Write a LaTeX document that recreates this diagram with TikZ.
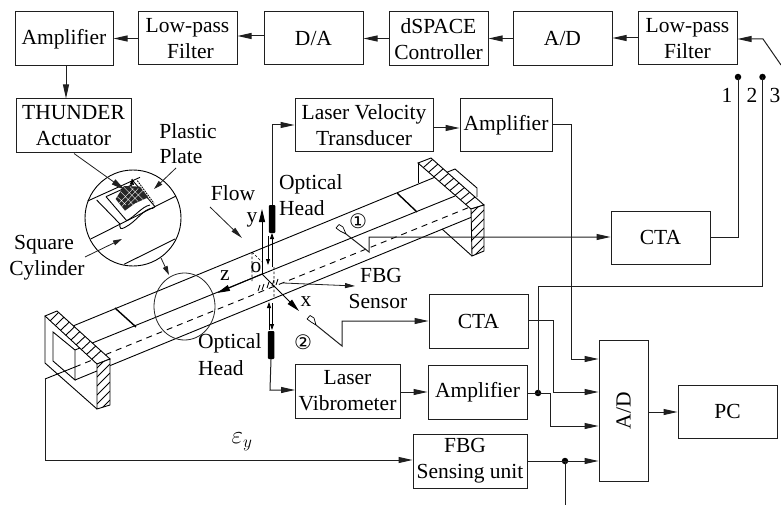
\documentclass[tikz,border=0pt]{standalone}
\usepackage{fontspec}
\setmainfont{Liberation Serif}
\newfontfamily\circfont{DejaVu Sans}
\usetikzlibrary{arrows.meta,calc,patterns}
\tikzset{
  ln/.style={line width=1pt,draw=black!88},
  arr/.style={ln,-{Triangle[length=14pt,width=6pt]}},
  smallarr/.style={line width=0.8pt,draw=black,-{Triangle[length=6pt,width=4pt]}},
  box/.style={draw=black!88,line width=1pt,inner sep=0pt,align=center,font=\fontsize{21.5}{26}\selectfont},
  lab/.style={inner sep=0pt,font=\fontsize{21.5}{26}\selectfont},
  dotn/.style={circle,fill=black,inner sep=0pt,minimum size=6.5pt},
  thin line/.style={line width=0.9pt,draw=black},
  thick mark/.style={line width=1.4pt,draw=black},
  head/.style={draw=none,fill=black,rounded corners=1pt,inner sep=0pt,minimum width=6.5pt,minimum height=28pt},
}
\newcommand{\bx}[6]{\pgfmathsetmacro\bxw{#4-#2}\pgfmathsetmacro\bxh{#5-#3}%
  \node[box,minimum width=\bxw pt,minimum height=\bxh pt] (#1) at ({(#2+#4)/2},{(#3+#5)/2}) {#6};}
\newcommand{\topstripes}[4]{\foreach \t in {0.1,0.2,...,0.95}{\pgfmathsetmacro\tt{\t-0.07}
  \draw[thin line] ($(#1)!\t!(#4)$) -- ($(#2)!\tt!(#3)$);}}
\begin{document}
\begin{tikzpicture}[x=1pt,y=-1pt]
\useasboundingbox (0,0) rectangle (781,505);
% ---------- channel
\draw[thin line] (53,332)--(75,350)--(75,380)--(53,361)--cycle;
\draw[thin line] (45,316)--(45,363)--(97,409);
\draw[thin line] (73,326)--(433,178) (433,178)--(455,169)--(477,188)--(477,197);
\draw[thin line] (75,350)--(455,196);
\draw[thin line] (75,380)--(472,217);
\draw[thin line] (418,163)--(418,183);
\draw[thin line] (442,229)--(472,256);
\draw[thin line] (45,379)--(75,367);
\draw[thin line,dash pattern=on 6pt off 5pt] (75,367)--(470,207);
\draw[thick mark] (115,308)--(136,327);
\draw[thick mark] (397,193)--(417,212);
% left flange
\draw[thin line,fill=white] (45,316)--(57,311)--(110,359)--(97,364)--cycle;
\coordinate (A) at (45,316);\coordinate (B) at (57,311);\coordinate (C) at (110,359);\coordinate (D) at (97,364);
\topstripes{A}{B}{C}{D}
\draw[thin line,fill=white] (97,364)--(110,359)--(110,405)--(97,409)--cycle;
\begin{scope}
\clip (97,364)--(110,359)--(110,405)--(97,409)--cycle;
\foreach \y in {368,377,...,422}{\draw[thin line] (97,\y)--(110,\y-13);}
\end{scope}
% right flange
\draw[thin line,fill=white] (418,163)--(431,158)--(484,205)--(471,209)--cycle;
\coordinate (A2) at (418,163);\coordinate (B2) at (431,158);\coordinate (C2) at (484,205);\coordinate (D2) at (471,209);
\topstripes{A2}{B2}{C2}{D2}
\draw[thin line,fill=white] (471,209)--(484,205)--(484,251)--(472,256)--cycle;
\begin{scope}
\clip (471,209)--(484,205)--(484,251)--(472,256)--cycle;
\foreach \y in {214,223,...,268}{\draw[thin line] (471,\y)--(484,\y-13);}
\end{scope}
% big ellipse
\draw[line width=0.8pt,draw=black!85] (184.5,306.5) ellipse [x radius=30.5,y radius=33.5];
% ---------- inset circle (zoom coordinates)
\node[circle,draw=black,line width=0.9pt,fill=white,inner sep=0pt,minimum size=96pt] (inset) at (133,218) {};
\begin{scope}[shift={(0,90)},x=0.33333pt,y=-0.33333pt,line width=0.9pt,draw=black]
\draw (263,333)--(420,262);
\draw (272,447)--(528,318);
\draw (372,523)--(525,447);
\draw (290,330)--(360,402);
\draw (318,320)--(380,392);
\draw (318,320)--(395,285);
\draw (395,268)--(465,350);
\draw (360,402) .. controls (358,415) and (362,420) .. (375,412) .. controls (410,395) and (430,355) .. (458,355) -- (465,350);
\draw (380,392) .. controls (405,380) and (425,350) .. (450,345);
\fill[black!85] (347,327)--(372,288)--(420,290)--(445,322)--(405,340)--(375,362)--cycle;
\draw[white,line width=0.35pt] (352,320)--(378,345) (362,305)--(400,345) (372,292)--(415,335) (390,290)--(430,330) (352,345)--(400,295) (365,350)--(415,295) (385,345)--(430,300);
\draw[dash pattern=on 1.5pt off 1pt] (412,272)--(462,340);
\draw[smallarr] (395,290)--(397,266);
\end{scope}
% ---------- top row
\bx{amp1}{15}{12}{113}{66}{Amplifier}
\bx{lp1}{138}{12}{237}{65}{Low-pass\\\hspace*{6pt}Filter}
\bx{da}{264}{12}{363}{65}{D/A}
\bx{ds}{389}{12}{488}{66}{dSPACE\\Controller}
\bx{ad1}{513}{12}{612}{66}{A/D}
\bx{lp2}{638}{12}{737}{65}{Low-pass\\Filter}
\draw[arr] (lp1.west |- 0,38.5) -- (amp1.east |- 0,38.5);
\draw[arr] (da.west |- 0,36) -- (lp1.east |- 0,36);
\draw[arr] (ds.west |- 0,38.5) -- (da.east |- 0,38.5);
\draw[arr] (ad1.west |- 0,38.5) -- (ds.east |- 0,38.5);
\draw[arr] (lp2.west |- 0,38) -- (ad1.east |- 0,38);
\coordinate (sw3) at (781,65);
\coordinate (sw2) at (763,39);
\draw[arr] (sw3) -- (sw2) -- (lp2.east |- sw2);
% thunder
\bx{th}{16}{99}{131}{153}{THUNDER\\Actuator}
\draw[arr] (amp1.south -| 66,0) -- (th.north -| 66,0);
\coordinate (tht) at (125,190);
\draw[arr,line width=0.8pt] (th.south -| 74,0) -- (tht);
% labels left
\node[lab] (plastic) at (188,131) {Plastic};
\node[lab] (plate) at (181,156) {Plate};
\node[lab] (square) at (44,245) {Square};
\node[lab] (cyl) at (47,270) {Cylinder};
\node[lab] (flow) at (233,193) {Flow};
\coordinate (pa1) at (176,168);\coordinate (pa2) at (154,189);
\draw[arr,line width=0.8pt,-{Triangle[length=9pt,width=5pt]}] (pa1)--(pa2);
\coordinate (sa1) at (85,257);\coordinate (sa2) at (122,239);
\draw[arr,line width=0.8pt,-{Triangle[length=9pt,width=5pt]}] (sa1)--(sa2);
\coordinate (ca1) at (161,258);\coordinate (ca2) at (169,275);
\draw[arr,line width=0.8pt,-{Triangle[length=9pt,width=5pt]}] (ca1)--(ca2);
\coordinate (fa1) at (210,207);\coordinate (fa2) at (242,238);
\draw[arr,line width=0.8pt,-{Triangle[length=12pt,width=5pt]}] (fa1)--(fa2);
% laser velocity row
\bx{lv}{295}{99}{433}{152}{Laser Velocity\\Transducer}
\bx{amp2}{460}{99}{552}{152}{Amplifier}
\draw[arr] (lv.east |- 0,128) -- (amp2.west |- 0,128);
% optical heads
\node[head] (oh1) at (272,219) {};
\node[head] (oh2) at (271,345) {};
\draw[arr] (oh1.north) -- (272,125) -- (lv.west |- 0,125);
\draw[arr] (oh2.south) -- (270,390) -- (295,390);
\node[lab,anchor=west] (oht) at (279,184) {Optical};
\node[lab,anchor=west] (ohb) at (279,208) {Head};
\node[lab,anchor=west] (oht2) at (198,343) {Optical};
\node[lab,anchor=west] (ohb2) at (198,368) {Head};
% axes
\coordinate (O) at (262,274);
\draw[arr,draw=black,-{Triangle[length=13pt,width=6pt]}] (O)--(262,209);
\draw[arr,draw=black,-{Triangle[length=13pt,width=6pt]}] (O)--(217,293);
\draw[arr,draw=black,-{Triangle[length=13pt,width=6pt]}] (O)--(299,311);
\node[lab] (ylab) at (252,220) {y};
\node[lab] (olab) at (256,268) {o};
\node[lab] (zlab) at (225,276) {z};
\node[lab] (xlab) at (306,302) {x};
% beam arrows
\draw[smallarr] (268,236)--(268,265);
\draw[smallarr] (272,267)--(272,233);
\draw[smallarr] (269,330)--(269,302);
\draw[smallarr] (272,303)--(272,330);
% dashed verticals
\draw[line width=0.6pt,dash pattern=on 2.5pt off 2pt] (252,252)--(252,281) (252,252)--(262,262) (274,267)--(274,298);
% FBG gratings
\draw[line width=0.8pt] (258,291)--(260,285) (262,290)--(264,284) (267,288)--(269,282) (272,286)--(274,280) (276,285)--(278,279);
\coordinate (fbgp) at (283,283);
\node[lab] (fbg) at (381,275) {FBG};
\node[lab] (sens) at (378,301) {Sensor};
\draw[arr,line width=0.8pt,-{Triangle[length=10pt,width=5pt]}] (fbgp)--(355,286);
% circled numbers
\node[inner sep=0pt,font=\circfont\fontsize{20}{20}\selectfont] (c1) at (358,221) {①};
\node[inner sep=0pt,font=\circfont\fontsize{20}{20}\selectfont] (c2) at (303,342) {②};
% CTA 1
\bx{cta1}{611}{211}{710}{264}{CTA}
\coordinate (k1) at (369,237);\coordinate (k1b) at (369,252);\coordinate (p1) at (346,234);
\draw[arr] (p1)--(k1b)--(k1)--(cta1.west |- k1);
\draw[line width=0.7pt] (346,234)--(340,231) (346,234)--(343,227) (340,231)--(336,228) (343,227)--(339,224.5) (336,228)--(339,224.5);
% CTA 2
\bx{cta2}{429}{294}{528}{348}{CTA}
\coordinate (k2) at (342,321);\coordinate (k2b) at (342,346);\coordinate (p2) at (316,325);
\draw[arr] (p2)--(k2b)--(k2)--(cta2.west |- k2);
\draw[line width=0.7pt] (316,325)--(311,322) (316,325)--(314,318) (311,322)--(307,319) (314,318)--(310,315.5) (307,319)--(310,315.5);
% lower row
\bx{lvib}{295}{364}{400}{418}{Laser\\Vibrometer}
\bx{amp3}{428}{365}{527}{419}{Amplifier}
\bx{fbgu}{413}{434}{527}{488}{FBG\hspace*{10pt}\\Sensing unit}
\bx{ad2}{599}{340}{648}{481}{}
\node[lab,rotate=90] (adt) at (ad2.center) {A/D};
\bx{pc}{678}{385}{777}{438}{PC}
\draw[arr] (lvib.east |- 0,392) -- (amp3.west |- 0,392);
% switch terminals
\node[dotn] (d1) at (738,77) {};
\node[dotn] (d2) at (762.5,77) {};
\node[lab] (n1) at (727,95) {1};
\node[lab] (n2) at (752,95) {2};
\node[lab] (n3) at (775,95) {3};
\draw[ln] (cta1.east |- 0,237) -- (738,237) -- (d1.center);
\node[dotn] (d3) at (538,393) {};
\draw[ln] (d2.center) -- (762.5,286) -- (538,286) -- (d3.center);
\draw[ln] (amp3.east |- d3) -- (d3.center);
\draw[arr] (d3.center) -- (550,393) -- (550,426) -- (ad2.west |- 0,426);
\draw[arr] (cta2.east |- 0,320) -- (553,320) -- (553,392) -- (ad2.west |- 0,392);
\draw[arr] (amp2.east |- 0,125) -- (571,125) -- (571,359) -- (ad2.west |- 0,359);
\draw[arr] (ad2.east |- 0,412) -- (pc.west |- 0,412);
% FBG line
\coordinate (fs) at (45,379);
\draw[arr] (fs) -- (45,460) -- (fbgu.west |- 0,460);
\node[inner sep=0pt,font=\fontsize{25}{25}\selectfont] (eps) at (242,442) {$\varepsilon_{y}$};
\node[dotn] (d4) at (565,461) {};
\coordinate (dn) at (565,505);
\draw[arr] (fbgu.east |- d4) -- (ad2.west |- d4);
\draw[ln] (d4.center) -- (dn);
\end{tikzpicture}
\end{document}
